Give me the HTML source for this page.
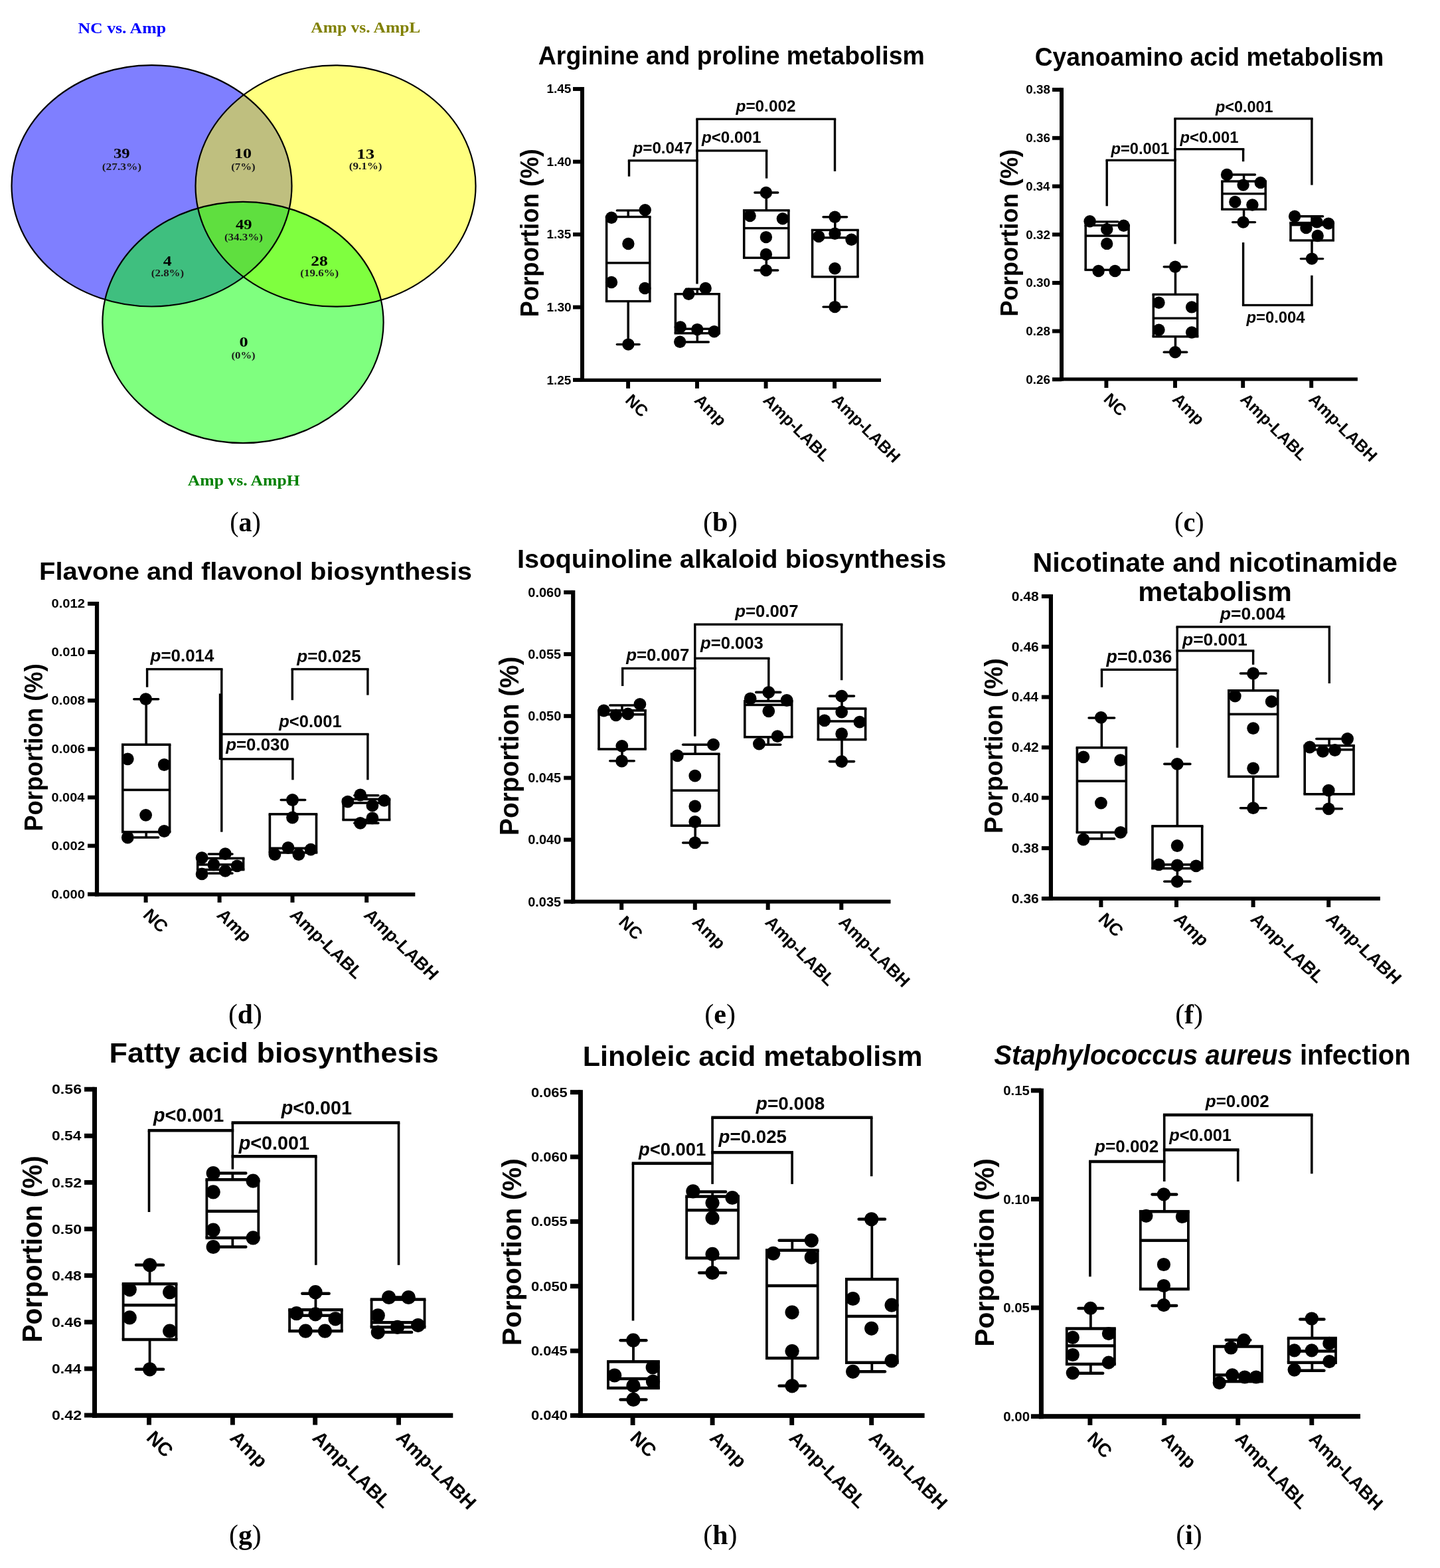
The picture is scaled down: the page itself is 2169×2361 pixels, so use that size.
<!DOCTYPE html>
<html><head><meta charset="utf-8"><title>Figure</title>
<style>html,body{margin:0;padding:0;background:#fff;}svg{display:block;}</style>
</head><body>
<svg width="2169" height="2361" viewBox="0 0 2169 2361">
<rect width="2169" height="2361" fill="#fff"/>
<ellipse cx="228.5" cy="279.8" rx="211" ry="181.7" fill="rgb(0,0,255)" fill-opacity="0.5"/>
<ellipse cx="505.5" cy="280" rx="211" ry="181.7" fill="rgb(255,255,0)" fill-opacity="0.5"/>
<ellipse cx="366" cy="485.5" rx="211.6" ry="181.6" fill="rgb(0,255,0)" fill-opacity="0.5"/>
<g stroke="#000" stroke-width="2.2" fill="none">
<ellipse cx="228.5" cy="279.8" rx="211" ry="181.7"/>
<ellipse cx="505.5" cy="280" rx="211" ry="181.7"/>
<ellipse cx="366" cy="485.5" rx="211.6" ry="181.6"/>
</g>
<text x="117.51" y="50" font-size="22.66" font-family='"Liberation Serif", "Times New Roman", serif' font-weight="bold" fill="#0000ff" textLength="132.52" lengthAdjust="spacingAndGlyphs">NC vs. Amp</text>
<text x="468.35" y="48.7" font-size="22.66" font-family='"Liberation Serif", "Times New Roman", serif' font-weight="bold" fill="#808000" textLength="165.01" lengthAdjust="spacingAndGlyphs">Amp vs. AmpL</text>
<text x="282.85" y="731.3" font-size="22.66" font-family='"Liberation Serif", "Times New Roman", serif' font-weight="bold" fill="#008000" textLength="168.77" lengthAdjust="spacingAndGlyphs">Amp vs. AmpH</text>
<text x="171.07" y="238.4" font-size="21.45" font-family='"Liberation Serif", "Times New Roman", serif' font-weight="bold" fill="#000" textLength="24.61" lengthAdjust="spacingAndGlyphs">39</text>
<text x="352.91" y="238.4" font-size="21.45" font-family='"Liberation Serif", "Times New Roman", serif' font-weight="bold" fill="#000" textLength="26.08" lengthAdjust="spacingAndGlyphs">10</text>
<text x="537.26" y="238.6" font-size="21.45" font-family='"Liberation Serif", "Times New Roman", serif' font-weight="bold" fill="#000" textLength="26.76" lengthAdjust="spacingAndGlyphs">13</text>
<text x="354.96" y="345.2" font-size="21.45" font-family='"Liberation Serif", "Times New Roman", serif' font-weight="bold" fill="#000" textLength="24.52" lengthAdjust="spacingAndGlyphs">49</text>
<text x="245.65" y="400.3" font-size="21.45" font-family='"Liberation Serif", "Times New Roman", serif' font-weight="bold" fill="#000" textLength="12.83" lengthAdjust="spacingAndGlyphs">4</text>
<text x="468.33" y="400.3" font-size="21.45" font-family='"Liberation Serif", "Times New Roman", serif' font-weight="bold" fill="#000" textLength="25.52" lengthAdjust="spacingAndGlyphs">28</text>
<text x="360.59" y="521.7" font-size="21.45" font-family='"Liberation Serif", "Times New Roman", serif' font-weight="bold" fill="#000" textLength="13.21" lengthAdjust="spacingAndGlyphs">0</text>
<text x="153.74" y="255.5" font-size="15.5" font-family='"Liberation Serif", "Times New Roman", serif' font-weight="bold" fill="#1a1a1a" textLength="59.33" lengthAdjust="spacingAndGlyphs">(27.3%)</text>
<text x="348.26" y="255.5" font-size="15.5" font-family='"Liberation Serif", "Times New Roman", serif' font-weight="bold" fill="#1a1a1a" textLength="36.48" lengthAdjust="spacingAndGlyphs">(7%)</text>
<text x="525.75" y="254.7" font-size="15.5" font-family='"Liberation Serif", "Times New Roman", serif' font-weight="bold" fill="#1a1a1a" textLength="49.8" lengthAdjust="spacingAndGlyphs">(9.1%)</text>
<text x="337.95" y="361.5" font-size="15.5" font-family='"Liberation Serif", "Times New Roman", serif' font-weight="bold" fill="#1a1a1a" textLength="57.99" lengthAdjust="spacingAndGlyphs">(34.3%)</text>
<text x="227.86" y="416.4" font-size="15.5" font-family='"Liberation Serif", "Times New Roman", serif' font-weight="bold" fill="#1a1a1a" textLength="49.29" lengthAdjust="spacingAndGlyphs">(2.8%)</text>
<text x="452.36" y="416.4" font-size="15.5" font-family='"Liberation Serif", "Times New Roman", serif' font-weight="bold" fill="#1a1a1a" textLength="57.79" lengthAdjust="spacingAndGlyphs">(19.6%)</text>
<text x="348.47" y="540.3" font-size="15.5" font-family='"Liberation Serif", "Times New Roman", serif' font-weight="bold" fill="#1a1a1a" textLength="36.17" lengthAdjust="spacingAndGlyphs">(0%)</text>
<!-- panel b -->
<text x="810.87" y="97.1" font-size="39.24" font-family='"Liberation Sans", Arial, sans-serif' font-weight="bold" fill="#000" textLength="581.85" lengthAdjust="spacingAndGlyphs">Arginine and proline metabolism</text>
<g fill="#000">
<rect x="874" y="131" width="6" height="444"/>
<rect x="874" y="569.8" width="453" height="5.2"/>
<rect x="863" y="131.05" width="14" height="5.9"/>
<rect x="863" y="240.58" width="14" height="5.9"/>
<rect x="863" y="350.1" width="14" height="5.9"/>
<rect x="863" y="459.63" width="14" height="5.9"/>
<rect x="863" y="569.15" width="14" height="5.9"/>
<rect x="943.15" y="572.4" width="5.9" height="12.5"/>
<rect x="1047.05" y="572.4" width="5.9" height="12.5"/>
<rect x="1150.65" y="572.4" width="5.9" height="12.5"/>
<rect x="1254.15" y="572.4" width="5.9" height="12.5"/>
<rect x="911.85" y="324.8" width="68.7" height="3.4"/>
<rect x="911.85" y="451.9" width="68.7" height="3.4"/>
<rect x="911.85" y="326.5" width="3.5" height="127.1"/>
<rect x="977.05" y="326.5" width="3.5" height="127.1"/>
<rect x="913.6" y="394.2" width="65.2" height="3.4"/>
<rect x="944.45" y="316.9" width="3.5" height="9.6"/>
<rect x="927.62" y="315.2" width="37.16" height="3.4" rx="1.7"/>
<rect x="944.45" y="453.6" width="3.5" height="65"/>
<rect x="927.62" y="516.9" width="37.16" height="3.4" rx="1.7"/>
<rect x="1015.65" y="441" width="69.3" height="3.4"/>
<rect x="1015.65" y="500.1" width="69.3" height="3.4"/>
<rect x="1015.65" y="442.7" width="3.5" height="59.1"/>
<rect x="1081.45" y="442.7" width="3.5" height="59.1"/>
<rect x="1017.4" y="493.5" width="65.8" height="3.4"/>
<rect x="1048.55" y="435.2" width="3.5" height="7.5"/>
<rect x="1031.55" y="433.5" width="37.51" height="3.4" rx="1.7"/>
<rect x="1048.55" y="501.8" width="3.5" height="13.2"/>
<rect x="1031.55" y="513.3" width="37.51" height="3.4" rx="1.7"/>
<rect x="1118.95" y="315.1" width="70.7" height="3.4"/>
<rect x="1118.95" y="386.5" width="70.7" height="3.4"/>
<rect x="1118.95" y="316.8" width="3.5" height="71.4"/>
<rect x="1186.15" y="316.8" width="3.5" height="71.4"/>
<rect x="1120.7" y="341.9" width="67.2" height="3.4"/>
<rect x="1152.55" y="290" width="3.5" height="26.8"/>
<rect x="1135.15" y="288.3" width="38.3" height="3.4" rx="1.7"/>
<rect x="1152.55" y="388.2" width="3.5" height="18.8"/>
<rect x="1135.15" y="405.3" width="38.3" height="3.4" rx="1.7"/>
<rect x="1221.85" y="344.7" width="71.9" height="3.4"/>
<rect x="1221.85" y="415.1" width="71.9" height="3.4"/>
<rect x="1221.85" y="346.4" width="3.5" height="70.4"/>
<rect x="1290.25" y="346.4" width="3.5" height="70.4"/>
<rect x="1223.6" y="356.2" width="68.4" height="3.4"/>
<rect x="1256.05" y="326.8" width="3.5" height="19.6"/>
<rect x="1238.31" y="325.1" width="38.99" height="3.4" rx="1.7"/>
<rect x="1256.05" y="416.8" width="3.5" height="45.3"/>
<rect x="1238.31" y="460.4" width="38.99" height="3.4" rx="1.7"/>
<rect x="945.8" y="241.8" width="3.4" height="23.9"/>
<rect x="945.8" y="240.15" width="105.9" height="3.3"/>
<rect x="1048.3" y="241.8" width="3.4" height="185.7"/>
<rect x="1048.3" y="179.3" width="3.4" height="62.5"/>
<rect x="1048.3" y="225.25" width="108" height="3.3"/>
<rect x="1152.9" y="226.9" width="3.4" height="41.7"/>
<rect x="1048.3" y="177.65" width="210.9" height="3.3"/>
<rect x="1255.8" y="179.3" width="3.4" height="78.6"/>
<circle cx="921" cy="327.7" r="9.2"/>
<circle cx="971.7" cy="316.3" r="9.2"/>
<circle cx="946.4" cy="367" r="9.2"/>
<circle cx="921" cy="425" r="9.2"/>
<circle cx="971.4" cy="434" r="9.2"/>
<circle cx="946.4" cy="518.6" r="9.2"/>
<circle cx="1037.3" cy="442.7" r="9.2"/>
<circle cx="1062.7" cy="434" r="9.2"/>
<circle cx="1024.8" cy="492.4" r="9.2"/>
<circle cx="1050.3" cy="496.1" r="9.2"/>
<circle cx="1075.8" cy="499.3" r="9.2"/>
<circle cx="1024.2" cy="514.8" r="9.2"/>
<circle cx="1153.9" cy="290" r="9.2"/>
<circle cx="1129.6" cy="325" r="9.2"/>
<circle cx="1178.9" cy="329.3" r="9.2"/>
<circle cx="1153.9" cy="357.1" r="9.2"/>
<circle cx="1153.9" cy="382.9" r="9.2"/>
<circle cx="1153.9" cy="407.1" r="9.2"/>
<circle cx="1257.5" cy="326.8" r="9.2"/>
<circle cx="1233.2" cy="356.1" r="9.2"/>
<circle cx="1257.5" cy="351.8" r="9.2"/>
<circle cx="1282.5" cy="360.7" r="9.2"/>
<circle cx="1257.5" cy="404.3" r="9.2"/>
<circle cx="1257.5" cy="462.1" r="9.2"/>
</g>
<text x="823.51" y="140.4" font-size="18.33" font-family='"Liberation Sans", Arial, sans-serif' font-weight="bold" fill="#000" textLength="36.92" lengthAdjust="spacingAndGlyphs">1.45</text>
<text x="823.5" y="249.93" font-size="18.33" font-family='"Liberation Sans", Arial, sans-serif' font-weight="bold" fill="#000" textLength="37.19" lengthAdjust="spacingAndGlyphs">1.40</text>
<text x="823.51" y="359.45" font-size="18.33" font-family='"Liberation Sans", Arial, sans-serif' font-weight="bold" fill="#000" textLength="36.92" lengthAdjust="spacingAndGlyphs">1.35</text>
<text x="823.5" y="468.98" font-size="18.33" font-family='"Liberation Sans", Arial, sans-serif' font-weight="bold" fill="#000" textLength="37.19" lengthAdjust="spacingAndGlyphs">1.30</text>
<text x="823.51" y="578.5" font-size="18.33" font-family='"Liberation Sans", Arial, sans-serif' font-weight="bold" fill="#000" textLength="36.92" lengthAdjust="spacingAndGlyphs">1.25</text>
<text x="0" y="0" font-size="25" font-family='"Liberation Sans", Arial, sans-serif' font-weight="bold" transform="translate(940.6,603.9) rotate(45)">NC</text>
<text x="0" y="0" font-size="25" font-family='"Liberation Sans", Arial, sans-serif' font-weight="bold" transform="translate(1044.5,603.9) rotate(45)">Amp</text>
<text x="0" y="0" font-size="25" font-family='"Liberation Sans", Arial, sans-serif' font-weight="bold" transform="translate(1148.1,603.9) rotate(45)">Amp-LABL</text>
<text x="0" y="0" font-size="25" font-family='"Liberation Sans", Arial, sans-serif' font-weight="bold" transform="translate(1251.6,603.9) rotate(45)">Amp-LABH</text>
<text x="-2.44" y="0" font-size="38" font-family='"Liberation Sans", Arial, sans-serif' font-weight="bold" textLength="253.26" lengthAdjust="spacingAndGlyphs" transform="translate(811,475) rotate(-90)">Porportion (%)</text>
<text x="953.43" y="231" font-size="24.24" font-family='"Liberation Sans", Arial, sans-serif' font-weight="bold" fill="#000" textLength="89.63" lengthAdjust="spacingAndGlyphs"><tspan font-family='"Liberation Sans", Arial, sans-serif' font-weight="bold" font-style="italic">p</tspan>=0.047</text>
<text x="1056.93" y="215" font-size="24.19" font-family='"Liberation Sans", Arial, sans-serif' font-weight="bold" fill="#000" textLength="89.44" lengthAdjust="spacingAndGlyphs"><tspan font-family='"Liberation Sans", Arial, sans-serif' font-weight="bold" font-style="italic">p</tspan>&lt;0.001</text>
<text x="1108.53" y="167.9" font-size="24.33" font-family='"Liberation Sans", Arial, sans-serif' font-weight="bold" fill="#000" textLength="89.94" lengthAdjust="spacingAndGlyphs"><tspan font-family='"Liberation Sans", Arial, sans-serif' font-weight="bold" font-style="italic">p</tspan>=0.002</text>
<!-- panel c -->
<text x="1558.67" y="98.9" font-size="39.24" font-family='"Liberation Sans", Arial, sans-serif' font-weight="bold" fill="#000" textLength="525.84" lengthAdjust="spacingAndGlyphs">Cyanoamino acid metabolism</text>
<g fill="#000">
<rect x="1596" y="132.2" width="6" height="441.4"/>
<rect x="1596" y="568.4" width="448.9" height="5.2"/>
<rect x="1585" y="132.15" width="14" height="5.9"/>
<rect x="1585" y="204.85" width="14" height="5.9"/>
<rect x="1585" y="277.55" width="14" height="5.9"/>
<rect x="1585" y="350.25" width="14" height="5.9"/>
<rect x="1585" y="422.95" width="14" height="5.9"/>
<rect x="1585" y="495.65" width="14" height="5.9"/>
<rect x="1585" y="568.35" width="14" height="5.9"/>
<rect x="1663.45" y="571" width="5.9" height="13"/>
<rect x="1767.05" y="571" width="5.9" height="13"/>
<rect x="1869.25" y="571" width="5.9" height="13"/>
<rect x="1972.25" y="571" width="5.9" height="13"/>
<rect x="1633.45" y="337.6" width="68.4" height="3.4"/>
<rect x="1633.45" y="404.7" width="68.4" height="3.4"/>
<rect x="1633.45" y="339.3" width="3.5" height="67.1"/>
<rect x="1698.35" y="339.3" width="3.5" height="67.1"/>
<rect x="1635.2" y="353.4" width="64.9" height="3.4"/>
<rect x="1665.45" y="333.9" width="3.5" height="5.4"/>
<rect x="1648.7" y="332.2" width="36.99" height="3.4" rx="1.7"/>
<rect x="1735.55" y="441.7" width="69.8" height="3.4"/>
<rect x="1735.55" y="505.1" width="69.8" height="3.4"/>
<rect x="1735.55" y="443.4" width="3.5" height="63.4"/>
<rect x="1801.85" y="443.4" width="3.5" height="63.4"/>
<rect x="1737.3" y="477.5" width="66.3" height="3.4"/>
<rect x="1768.7" y="401.7" width="3.5" height="41.7"/>
<rect x="1751.55" y="400" width="37.79" height="3.4" rx="1.7"/>
<rect x="1768.7" y="506.8" width="3.5" height="23.5"/>
<rect x="1751.55" y="528.6" width="37.79" height="3.4" rx="1.7"/>
<rect x="1839.15" y="271.3" width="68.8" height="3.4"/>
<rect x="1839.15" y="313.5" width="68.8" height="3.4"/>
<rect x="1839.15" y="273" width="3.5" height="42.2"/>
<rect x="1904.45" y="273" width="3.5" height="42.2"/>
<rect x="1840.9" y="290" width="65.3" height="3.4"/>
<rect x="1871.8" y="263" width="3.5" height="10"/>
<rect x="1854.94" y="261.3" width="37.22" height="3.4" rx="1.7"/>
<rect x="1871.8" y="315.2" width="3.5" height="19.4"/>
<rect x="1854.94" y="332.9" width="37.22" height="3.4" rx="1.7"/>
<rect x="1942.25" y="333.8" width="67.7" height="3.4"/>
<rect x="1942.25" y="360.3" width="67.7" height="3.4"/>
<rect x="1942.25" y="335.5" width="3.5" height="26.5"/>
<rect x="2006.45" y="335.5" width="3.5" height="26.5"/>
<rect x="1944" y="337" width="64.2" height="3.4"/>
<rect x="1974.25" y="325.8" width="3.5" height="9.7"/>
<rect x="1957.7" y="324.1" width="36.59" height="3.4" rx="1.7"/>
<rect x="1974.25" y="362" width="3.5" height="27.6"/>
<rect x="1957.7" y="387.9" width="36.59" height="3.4" rx="1.7"/>
<rect x="1665.5" y="241.3" width="3.4" height="69"/>
<rect x="1665.5" y="239.65" width="106.2" height="3.3"/>
<rect x="1768.3" y="241.3" width="3.4" height="126.1"/>
<rect x="1768.3" y="178.7" width="3.4" height="62.6"/>
<rect x="1768.3" y="222.95" width="106" height="3.3"/>
<rect x="1870.9" y="224.6" width="3.4" height="18.6"/>
<rect x="1768.3" y="177.05" width="209.3" height="3.3"/>
<rect x="1974.2" y="178.7" width="3.4" height="99.9"/>
<rect x="1870.9" y="365.1" width="3.4" height="94.4"/>
<rect x="1870.9" y="457.85" width="106.7" height="3.3"/>
<rect x="1974.2" y="414.7" width="3.4" height="44.8"/>
<circle cx="1641.6" cy="333.3" r="9.2"/>
<circle cx="1692.5" cy="339.8" r="9.2"/>
<circle cx="1667.2" cy="345.2" r="9.2"/>
<circle cx="1667.2" cy="366.9" r="9.2"/>
<circle cx="1654.6" cy="408" r="9.2"/>
<circle cx="1679.5" cy="408" r="9.2"/>
<circle cx="1770.1" cy="401.7" r="9.2"/>
<circle cx="1745.5" cy="455.7" r="9.2"/>
<circle cx="1795.1" cy="462.4" r="9.2"/>
<circle cx="1745.5" cy="496.7" r="9.2"/>
<circle cx="1795.1" cy="500.5" r="9.2"/>
<circle cx="1770.1" cy="530.3" r="9.2"/>
<circle cx="1848" cy="263" r="9.2"/>
<circle cx="1872.6" cy="278.6" r="9.2"/>
<circle cx="1898.7" cy="274.9" r="9.2"/>
<circle cx="1860.3" cy="304" r="9.2"/>
<circle cx="1886.4" cy="308.5" r="9.2"/>
<circle cx="1872.6" cy="334.6" r="9.2"/>
<circle cx="1950.1" cy="325.8" r="9.2"/>
<circle cx="1967.4" cy="343.1" r="9.2"/>
<circle cx="1983.6" cy="334.4" r="9.2"/>
<circle cx="2001" cy="336.6" r="9.2"/>
<circle cx="1984.7" cy="355" r="9.2"/>
<circle cx="1976" cy="389.6" r="9.2"/>
</g>
<text x="1545.36" y="141.45" font-size="18.19" font-family='"Liberation Sans", Arial, sans-serif' font-weight="bold" fill="#000" textLength="36.52" lengthAdjust="spacingAndGlyphs">0.38</text>
<text x="1545.36" y="214.15" font-size="18.19" font-family='"Liberation Sans", Arial, sans-serif' font-weight="bold" fill="#000" textLength="36.62" lengthAdjust="spacingAndGlyphs">0.36</text>
<text x="1545.37" y="286.85" font-size="18.19" font-family='"Liberation Sans", Arial, sans-serif' font-weight="bold" fill="#000" textLength="36.03" lengthAdjust="spacingAndGlyphs">0.34</text>
<text x="1545.35" y="359.55" font-size="18.19" font-family='"Liberation Sans", Arial, sans-serif' font-weight="bold" fill="#000" textLength="36.7" lengthAdjust="spacingAndGlyphs">0.32</text>
<text x="1545.35" y="432.25" font-size="18.19" font-family='"Liberation Sans", Arial, sans-serif' font-weight="bold" fill="#000" textLength="36.72" lengthAdjust="spacingAndGlyphs">0.30</text>
<text x="1545.36" y="504.95" font-size="18.19" font-family='"Liberation Sans", Arial, sans-serif' font-weight="bold" fill="#000" textLength="36.52" lengthAdjust="spacingAndGlyphs">0.28</text>
<text x="1545.36" y="577.65" font-size="18.19" font-family='"Liberation Sans", Arial, sans-serif' font-weight="bold" fill="#000" textLength="36.62" lengthAdjust="spacingAndGlyphs">0.26</text>
<text x="0" y="0" font-size="25" font-family='"Liberation Sans", Arial, sans-serif' font-weight="bold" transform="translate(1660.9,602.5) rotate(45)">NC</text>
<text x="0" y="0" font-size="25" font-family='"Liberation Sans", Arial, sans-serif' font-weight="bold" transform="translate(1764.5,602.5) rotate(45)">Amp</text>
<text x="0" y="0" font-size="25" font-family='"Liberation Sans", Arial, sans-serif' font-weight="bold" transform="translate(1866.7,602.5) rotate(45)">Amp-LABL</text>
<text x="0" y="0" font-size="25" font-family='"Liberation Sans", Arial, sans-serif' font-weight="bold" transform="translate(1969.7,602.5) rotate(45)">Amp-LABH</text>
<text x="-2.43" y="0" font-size="37" font-family='"Liberation Sans", Arial, sans-serif' font-weight="bold" textLength="252.14" lengthAdjust="spacingAndGlyphs" transform="translate(1533.1,474.3) rotate(-90)">Porportion (%)</text>
<text x="1673.52" y="232" font-size="23.68" font-family='"Liberation Sans", Arial, sans-serif' font-weight="bold" fill="#000" textLength="87.54" lengthAdjust="spacingAndGlyphs"><tspan font-family='"Liberation Sans", Arial, sans-serif' font-weight="bold" font-style="italic">p</tspan>=0.001</text>
<text x="1777.52" y="215.2" font-size="23.78" font-family='"Liberation Sans", Arial, sans-serif' font-weight="bold" fill="#000" textLength="87.94" lengthAdjust="spacingAndGlyphs"><tspan font-family='"Liberation Sans", Arial, sans-serif' font-weight="bold" font-style="italic">p</tspan>&lt;0.001</text>
<text x="1831.01" y="169.4" font-size="23.43" font-family='"Liberation Sans", Arial, sans-serif' font-weight="bold" fill="#000" textLength="86.64" lengthAdjust="spacingAndGlyphs"><tspan font-family='"Liberation Sans", Arial, sans-serif' font-weight="bold" font-style="italic">p</tspan>&lt;0.001</text>
<text x="1877.52" y="485.6" font-size="23.83" font-family='"Liberation Sans", Arial, sans-serif' font-weight="bold" fill="#000" textLength="88.1" lengthAdjust="spacingAndGlyphs"><tspan font-family='"Liberation Sans", Arial, sans-serif' font-weight="bold" font-style="italic">p</tspan>=0.004</text>
<!-- panel d -->
<text x="59.03" y="873.2" font-size="37.5" font-family='"Liberation Sans", Arial, sans-serif' font-weight="bold" fill="#000" textLength="652.01" lengthAdjust="spacingAndGlyphs">Flavone and flavonol biosynthesis</text>
<g fill="#000">
<rect x="142.9" y="906" width="6.2" height="443.7"/>
<rect x="142.9" y="1343.9" width="482.4" height="5.8"/>
<rect x="132" y="906" width="14" height="6"/>
<rect x="132" y="978.92" width="14" height="6"/>
<rect x="132" y="1051.83" width="14" height="6"/>
<rect x="132" y="1124.75" width="14" height="6"/>
<rect x="132" y="1197.67" width="14" height="6"/>
<rect x="132" y="1270.58" width="14" height="6"/>
<rect x="132" y="1343.5" width="14" height="6"/>
<rect x="216.6" y="1346.8" width="6" height="12.2"/>
<rect x="327.6" y="1346.8" width="6" height="12.2"/>
<rect x="437.5" y="1346.8" width="6" height="12.2"/>
<rect x="549.2" y="1346.8" width="6" height="12.2"/>
<rect x="183" y="1119.4" width="74.4" height="3.6"/>
<rect x="183" y="1250.9" width="74.4" height="3.6"/>
<rect x="183" y="1121.2" width="3.6" height="131.5"/>
<rect x="253.8" y="1121.2" width="3.6" height="131.5"/>
<rect x="184.8" y="1187.6" width="70.8" height="3.6"/>
<rect x="218.4" y="1052.7" width="3.6" height="68.5"/>
<rect x="200.02" y="1050.9" width="40.36" height="3.6" rx="1.8"/>
<rect x="218.4" y="1252.7" width="3.6" height="8.3"/>
<rect x="200.02" y="1259.2" width="40.36" height="3.6" rx="1.8"/>
<rect x="295.9" y="1290.6" width="72.5" height="3.6"/>
<rect x="295.9" y="1307.7" width="72.5" height="3.6"/>
<rect x="295.9" y="1292.4" width="3.6" height="17.1"/>
<rect x="364.8" y="1292.4" width="3.6" height="17.1"/>
<rect x="297.7" y="1300.1" width="68.9" height="3.6"/>
<rect x="330.35" y="1286" width="3.6" height="6.4"/>
<rect x="312.51" y="1284.2" width="39.27" height="3.6" rx="1.8"/>
<rect x="330.35" y="1309.5" width="3.6" height="5.5"/>
<rect x="312.51" y="1313.2" width="39.27" height="3.6" rx="1.8"/>
<rect x="404.6" y="1224.1" width="73.7" height="3.6"/>
<rect x="404.6" y="1282.1" width="73.7" height="3.6"/>
<rect x="404.6" y="1225.9" width="3.6" height="58"/>
<rect x="474.7" y="1225.9" width="3.6" height="58"/>
<rect x="406.4" y="1275.5" width="70.1" height="3.6"/>
<rect x="439.65" y="1204.5" width="3.6" height="21.4"/>
<rect x="421.47" y="1202.7" width="39.96" height="3.6" rx="1.8"/>
<rect x="515.4" y="1201.6" width="72.9" height="3.6"/>
<rect x="515.4" y="1232.7" width="72.9" height="3.6"/>
<rect x="515.4" y="1203.4" width="3.6" height="31.1"/>
<rect x="584.7" y="1203.4" width="3.6" height="31.1"/>
<rect x="517.2" y="1207.2" width="69.3" height="3.6"/>
<rect x="550.05" y="1197.7" width="3.6" height="5.7"/>
<rect x="532.1" y="1195.9" width="39.5" height="3.6" rx="1.8"/>
<rect x="550.05" y="1234.5" width="3.6" height="4.9"/>
<rect x="532.1" y="1237.6" width="39.5" height="3.6" rx="1.8"/>
<rect x="219.9" y="1007.6" width="3.4" height="27.1"/>
<rect x="219.9" y="1005.9" width="115.6" height="3.4"/>
<rect x="332.1" y="1007.6" width="3.4" height="245.1"/>
<rect x="438.6" y="1007.6" width="3.4" height="46.6"/>
<rect x="438.6" y="1005.9" width="117" height="3.4"/>
<rect x="552.2" y="1007.6" width="3.4" height="39"/>
<rect x="329.8" y="1044.4" width="3.4" height="99.6"/>
<rect x="332.1" y="1103.8" width="223.5" height="3.4"/>
<rect x="552.2" y="1105.5" width="3.4" height="68.8"/>
<rect x="332.1" y="1141.2" width="110.5" height="3.4"/>
<rect x="439.2" y="1142.9" width="3.4" height="31.4"/>
<circle cx="219.6" cy="1052.7" r="9.4"/>
<circle cx="192.3" cy="1142.8" r="9.4"/>
<circle cx="247.3" cy="1151.5" r="9.4"/>
<circle cx="219.6" cy="1227.3" r="9.4"/>
<circle cx="247.3" cy="1251.5" r="9.4"/>
<circle cx="192.3" cy="1261" r="9.4"/>
<circle cx="304.1" cy="1291.7" r="9.4"/>
<circle cx="339.3" cy="1285.6" r="9.4"/>
<circle cx="321.9" cy="1301.9" r="9.4"/>
<circle cx="357.1" cy="1303.8" r="9.4"/>
<circle cx="339.3" cy="1311.4" r="9.4"/>
<circle cx="304.1" cy="1315.9" r="9.4"/>
<circle cx="440.5" cy="1204.5" r="9.4"/>
<circle cx="440.5" cy="1231" r="9.4"/>
<circle cx="434" cy="1276.5" r="9.4"/>
<circle cx="468.1" cy="1279.2" r="9.4"/>
<circle cx="413.9" cy="1286.7" r="9.4"/>
<circle cx="449.9" cy="1286.7" r="9.4"/>
<circle cx="542.7" cy="1197" r="9.4"/>
<circle cx="523.8" cy="1207.2" r="9.4"/>
<circle cx="578.7" cy="1205.3" r="9.4"/>
<circle cx="560.9" cy="1212.9" r="9.4"/>
<circle cx="560.9" cy="1231.8" r="9.4"/>
<circle cx="542.7" cy="1239.4" r="9.4"/>
</g>
<text x="77.5" y="915.3" font-size="18.05" font-family='"Liberation Sans", Arial, sans-serif' font-weight="bold" fill="#000" textLength="50.51" lengthAdjust="spacingAndGlyphs">0.012</text>
<text x="77.5" y="988.22" font-size="18.05" font-family='"Liberation Sans", Arial, sans-serif' font-weight="bold" fill="#000" textLength="50.53" lengthAdjust="spacingAndGlyphs">0.010</text>
<text x="77.5" y="1061.13" font-size="18.05" font-family='"Liberation Sans", Arial, sans-serif' font-weight="bold" fill="#000" textLength="50.31" lengthAdjust="spacingAndGlyphs">0.008</text>
<text x="77.5" y="1134.05" font-size="18.05" font-family='"Liberation Sans", Arial, sans-serif' font-weight="bold" fill="#000" textLength="50.43" lengthAdjust="spacingAndGlyphs">0.006</text>
<text x="77.51" y="1206.97" font-size="18.05" font-family='"Liberation Sans", Arial, sans-serif' font-weight="bold" fill="#000" textLength="49.79" lengthAdjust="spacingAndGlyphs">0.004</text>
<text x="77.5" y="1279.88" font-size="18.05" font-family='"Liberation Sans", Arial, sans-serif' font-weight="bold" fill="#000" textLength="50.51" lengthAdjust="spacingAndGlyphs">0.002</text>
<text x="77.5" y="1352.8" font-size="18.05" font-family='"Liberation Sans", Arial, sans-serif' font-weight="bold" fill="#000" textLength="50.53" lengthAdjust="spacingAndGlyphs">0.000</text>
<text x="0" y="0" font-size="26" font-family='"Liberation Sans", Arial, sans-serif' font-weight="bold" transform="translate(214,1379.3) scale(1.05,1) rotate(45)">NC</text>
<text x="0" y="0" font-size="26" font-family='"Liberation Sans", Arial, sans-serif' font-weight="bold" transform="translate(325,1379.3) scale(1.05,1) rotate(45)">Amp</text>
<text x="0" y="0" font-size="26" font-family='"Liberation Sans", Arial, sans-serif' font-weight="bold" transform="translate(434.9,1379.3) scale(1.05,1) rotate(45)">Amp-LABL</text>
<text x="0" y="0" font-size="26" font-family='"Liberation Sans", Arial, sans-serif' font-weight="bold" transform="translate(546.6,1379.3) scale(1.05,1) rotate(45)">Amp-LABH</text>
<text x="-2.43" y="0" font-size="38.5" font-family='"Liberation Sans", Arial, sans-serif' font-weight="bold" textLength="252.54" lengthAdjust="spacingAndGlyphs" transform="translate(63.7,1249.3) rotate(-90)">Porportion (%)</text>
<text x="226.57" y="995.7" font-size="25.93" font-family='"Liberation Sans", Arial, sans-serif' font-weight="bold" fill="#000" textLength="95.87" lengthAdjust="spacingAndGlyphs"><tspan font-family='"Liberation Sans", Arial, sans-serif' font-weight="bold" font-style="italic">p</tspan>=0.014</text>
<text x="447.37" y="996.8" font-size="26.06" font-family='"Liberation Sans", Arial, sans-serif' font-weight="bold" fill="#000" textLength="96.35" lengthAdjust="spacingAndGlyphs"><tspan font-family='"Liberation Sans", Arial, sans-serif' font-weight="bold" font-style="italic">p</tspan>=0.025</text>
<text x="420.26" y="1095.3" font-size="25.52" font-family='"Liberation Sans", Arial, sans-serif' font-weight="bold" fill="#000" textLength="94.35" lengthAdjust="spacingAndGlyphs"><tspan font-family='"Liberation Sans", Arial, sans-serif' font-weight="bold" font-style="italic">p</tspan>&lt;0.001</text>
<text x="340.17" y="1129.9" font-size="25.88" font-family='"Liberation Sans", Arial, sans-serif' font-weight="bold" fill="#000" textLength="95.69" lengthAdjust="spacingAndGlyphs"><tspan font-family='"Liberation Sans", Arial, sans-serif' font-weight="bold" font-style="italic">p</tspan>=0.030</text>
<!-- panel e -->
<text x="779.04" y="854.8" font-size="39.24" font-family='"Liberation Sans", Arial, sans-serif' font-weight="bold" fill="#000" textLength="646.28" lengthAdjust="spacingAndGlyphs">Isoquinoline alkaloid biosynthesis</text>
<g fill="#000">
<rect x="860.1" y="888.9" width="6.2" height="471.6"/>
<rect x="860.1" y="1354.7" width="481.4" height="5.8"/>
<rect x="849.2" y="888.9" width="14" height="6"/>
<rect x="849.2" y="982.04" width="14" height="6"/>
<rect x="849.2" y="1075.18" width="14" height="6"/>
<rect x="849.2" y="1168.32" width="14" height="6"/>
<rect x="849.2" y="1261.46" width="14" height="6"/>
<rect x="849.2" y="1354.6" width="14" height="6"/>
<rect x="933.2" y="1357.6" width="6" height="12.4"/>
<rect x="1043.8" y="1357.6" width="6" height="12.4"/>
<rect x="1153.7" y="1357.6" width="6" height="12.4"/>
<rect x="1264.3" y="1357.6" width="6" height="12.4"/>
<rect x="900.2" y="1068" width="73.6" height="3.6"/>
<rect x="900.2" y="1126.2" width="73.6" height="3.6"/>
<rect x="900.2" y="1069.8" width="3.6" height="58.2"/>
<rect x="970.2" y="1069.8" width="3.6" height="58.2"/>
<rect x="902" y="1074" width="70" height="3.6"/>
<rect x="935.2" y="1062" width="3.6" height="7.8"/>
<rect x="917.05" y="1060.2" width="39.9" height="3.6" rx="1.8"/>
<rect x="935.2" y="1128" width="3.6" height="17.8"/>
<rect x="917.05" y="1144" width="39.9" height="3.6" rx="1.8"/>
<rect x="1009.8" y="1133.4" width="74.8" height="3.6"/>
<rect x="1009.8" y="1241.4" width="74.8" height="3.6"/>
<rect x="1009.8" y="1135.2" width="3.6" height="108"/>
<rect x="1081" y="1135.2" width="3.6" height="108"/>
<rect x="1011.6" y="1188.4" width="71.2" height="3.6"/>
<rect x="1045.4" y="1121.2" width="3.6" height="14"/>
<rect x="1026.91" y="1119.4" width="40.58" height="3.6" rx="1.8"/>
<rect x="1045.4" y="1243.2" width="3.6" height="25.8"/>
<rect x="1026.91" y="1267.2" width="40.58" height="3.6" rx="1.8"/>
<rect x="1120" y="1053.9" width="74.5" height="3.6"/>
<rect x="1120" y="1108" width="74.5" height="3.6"/>
<rect x="1120" y="1055.7" width="3.6" height="54.1"/>
<rect x="1190.9" y="1055.7" width="3.6" height="54.1"/>
<rect x="1121.8" y="1059.6" width="70.9" height="3.6"/>
<rect x="1155.45" y="1042.4" width="3.6" height="13.3"/>
<rect x="1137.04" y="1040.6" width="40.41" height="3.6" rx="1.8"/>
<rect x="1155.45" y="1109.8" width="3.6" height="11.4"/>
<rect x="1137.04" y="1119.4" width="40.41" height="3.6" rx="1.8"/>
<rect x="1230.6" y="1065.2" width="74.8" height="3.6"/>
<rect x="1230.6" y="1111.8" width="74.8" height="3.6"/>
<rect x="1230.6" y="1067" width="3.6" height="46.6"/>
<rect x="1301.8" y="1067" width="3.6" height="46.6"/>
<rect x="1232.4" y="1084.2" width="71.2" height="3.6"/>
<rect x="1266.2" y="1048.1" width="3.6" height="18.9"/>
<rect x="1247.71" y="1046.3" width="40.58" height="3.6" rx="1.8"/>
<rect x="1266.2" y="1113.6" width="3.6" height="33"/>
<rect x="1247.71" y="1144.8" width="40.58" height="3.6" rx="1.8"/>
<rect x="936" y="1006.4" width="3.4" height="26.6"/>
<rect x="936" y="1004.7" width="112.5" height="3.4"/>
<rect x="1045.1" y="1006.4" width="3.4" height="102.3"/>
<rect x="1045.1" y="940.2" width="3.4" height="66.2"/>
<rect x="1045.1" y="989.6" width="114.4" height="3.4"/>
<rect x="1156.1" y="991.3" width="3.4" height="42.7"/>
<rect x="1045.1" y="938.5" width="224.3" height="3.4"/>
<rect x="1266" y="940.2" width="3.4" height="84"/>
<circle cx="909.5" cy="1070" r="9.4"/>
<circle cx="927.8" cy="1076.8" r="9.4"/>
<circle cx="945.8" cy="1074.9" r="9.4"/>
<circle cx="963.9" cy="1060.4" r="9.4"/>
<circle cx="936.8" cy="1123.3" r="9.4"/>
<circle cx="936.6" cy="1146" r="9.4"/>
<circle cx="1020.3" cy="1137.9" r="9.4"/>
<circle cx="1074.5" cy="1121.2" r="9.4"/>
<circle cx="1046.8" cy="1168.2" r="9.4"/>
<circle cx="1046.8" cy="1214" r="9.4"/>
<circle cx="1046.8" cy="1237.5" r="9.4"/>
<circle cx="1046.8" cy="1268.9" r="9.4"/>
<circle cx="1157.8" cy="1042.4" r="9.4"/>
<circle cx="1130.2" cy="1051.9" r="9.4"/>
<circle cx="1185.1" cy="1054.5" r="9.4"/>
<circle cx="1157.8" cy="1070.8" r="9.4"/>
<circle cx="1171.1" cy="1108.7" r="9.4"/>
<circle cx="1143.4" cy="1120.1" r="9.4"/>
<circle cx="1267.7" cy="1048.1" r="9.4"/>
<circle cx="1267.7" cy="1072" r="9.4"/>
<circle cx="1241.9" cy="1084.8" r="9.4"/>
<circle cx="1294.9" cy="1087.1" r="9.4"/>
<circle cx="1267.7" cy="1104.9" r="9.4"/>
<circle cx="1267.7" cy="1146.6" r="9.4"/>
</g>
<text x="795.31" y="898.85" font-size="19.91" font-family='"Liberation Sans", Arial, sans-serif' font-weight="bold" fill="#000" textLength="50.01" lengthAdjust="spacingAndGlyphs">0.060</text>
<text x="795.31" y="991.99" font-size="19.91" font-family='"Liberation Sans", Arial, sans-serif' font-weight="bold" fill="#000" textLength="49.74" lengthAdjust="spacingAndGlyphs">0.055</text>
<text x="795.31" y="1085.13" font-size="19.91" font-family='"Liberation Sans", Arial, sans-serif' font-weight="bold" fill="#000" textLength="50.01" lengthAdjust="spacingAndGlyphs">0.050</text>
<text x="795.31" y="1178.27" font-size="19.91" font-family='"Liberation Sans", Arial, sans-serif' font-weight="bold" fill="#000" textLength="49.74" lengthAdjust="spacingAndGlyphs">0.045</text>
<text x="795.31" y="1271.41" font-size="19.91" font-family='"Liberation Sans", Arial, sans-serif' font-weight="bold" fill="#000" textLength="50.01" lengthAdjust="spacingAndGlyphs">0.040</text>
<text x="795.31" y="1364.55" font-size="19.91" font-family='"Liberation Sans", Arial, sans-serif' font-weight="bold" fill="#000" textLength="49.74" lengthAdjust="spacingAndGlyphs">0.035</text>
<text x="0" y="0" font-size="26" font-family='"Liberation Sans", Arial, sans-serif' font-weight="bold" transform="translate(930.6,1390.1) rotate(45)">NC</text>
<text x="0" y="0" font-size="26" font-family='"Liberation Sans", Arial, sans-serif' font-weight="bold" transform="translate(1041.2,1390.1) rotate(45)">Amp</text>
<text x="0" y="0" font-size="26" font-family='"Liberation Sans", Arial, sans-serif' font-weight="bold" transform="translate(1151.1,1390.1) rotate(45)">Amp-LABL</text>
<text x="0" y="0" font-size="26" font-family='"Liberation Sans", Arial, sans-serif' font-weight="bold" transform="translate(1261.7,1390.1) rotate(45)">Amp-LABH</text>
<text x="-2.6" y="0" font-size="40.5" font-family='"Liberation Sans", Arial, sans-serif' font-weight="bold" textLength="269.43" lengthAdjust="spacingAndGlyphs" transform="translate(781.1,1255.3) rotate(-90)">Porportion (%)</text>
<text x="943.27" y="995" font-size="25.74" font-family='"Liberation Sans", Arial, sans-serif' font-weight="bold" fill="#000" textLength="95.17" lengthAdjust="spacingAndGlyphs"><tspan font-family='"Liberation Sans", Arial, sans-serif' font-weight="bold" font-style="italic">p</tspan>=0.007</text>
<text x="1054.96" y="977.3" font-size="25.68" font-family='"Liberation Sans", Arial, sans-serif' font-weight="bold" fill="#000" textLength="94.96" lengthAdjust="spacingAndGlyphs"><tspan font-family='"Liberation Sans", Arial, sans-serif' font-weight="bold" font-style="italic">p</tspan>=0.003</text>
<text x="1107.27" y="928.8" font-size="25.77" font-family='"Liberation Sans", Arial, sans-serif' font-weight="bold" fill="#000" textLength="95.27" lengthAdjust="spacingAndGlyphs"><tspan font-family='"Liberation Sans", Arial, sans-serif' font-weight="bold" font-style="italic">p</tspan>=0.007</text>
<!-- panel f -->
<text x="1555.64" y="861.4" font-size="39.97" font-family='"Liberation Sans", Arial, sans-serif' font-weight="bold" fill="#000" textLength="549.26" lengthAdjust="spacingAndGlyphs">Nicotinate and nicotinamide</text>
<text x="1714.25" y="905.2" font-size="39.97" font-family='"Liberation Sans", Arial, sans-serif' font-weight="bold" fill="#000" textLength="231.53" lengthAdjust="spacingAndGlyphs">metabolism</text>
<g fill="#000">
<rect x="1579.8" y="894.9" width="6.2" height="461"/>
<rect x="1579.8" y="1350.1" width="499.1" height="5.8"/>
<rect x="1568.9" y="894.9" width="14" height="6"/>
<rect x="1568.9" y="970.75" width="14" height="6"/>
<rect x="1568.9" y="1046.6" width="14" height="6"/>
<rect x="1568.9" y="1122.45" width="14" height="6"/>
<rect x="1568.9" y="1198.3" width="14" height="6"/>
<rect x="1568.9" y="1274.15" width="14" height="6"/>
<rect x="1568.9" y="1350" width="14" height="6"/>
<rect x="1655.4" y="1353" width="6" height="13"/>
<rect x="1769" y="1353" width="6" height="13"/>
<rect x="1884.6" y="1353" width="6" height="13"/>
<rect x="1998.2" y="1353" width="6" height="13"/>
<rect x="1620.6" y="1124" width="77.5" height="3.6"/>
<rect x="1620.6" y="1251.6" width="77.5" height="3.6"/>
<rect x="1620.6" y="1125.8" width="3.6" height="127.6"/>
<rect x="1694.5" y="1125.8" width="3.6" height="127.6"/>
<rect x="1622.4" y="1174.3" width="73.9" height="3.6"/>
<rect x="1657.55" y="1081" width="3.6" height="44.8"/>
<rect x="1638.29" y="1079.2" width="42.12" height="3.6" rx="1.8"/>
<rect x="1657.55" y="1253.4" width="3.6" height="9.5"/>
<rect x="1638.29" y="1261.1" width="42.12" height="3.6" rx="1.8"/>
<rect x="1734.2" y="1242.1" width="78.3" height="3.6"/>
<rect x="1734.2" y="1305.8" width="78.3" height="3.6"/>
<rect x="1734.2" y="1243.9" width="3.6" height="63.7"/>
<rect x="1808.9" y="1243.9" width="3.6" height="63.7"/>
<rect x="1736" y="1300.1" width="74.7" height="3.6"/>
<rect x="1771.55" y="1150.4" width="3.6" height="93.5"/>
<rect x="1752.06" y="1148.6" width="42.58" height="3.6" rx="1.8"/>
<rect x="1771.55" y="1307.6" width="3.6" height="19.7"/>
<rect x="1752.06" y="1325.5" width="42.58" height="3.6" rx="1.8"/>
<rect x="1849" y="1038" width="77.5" height="3.6"/>
<rect x="1849" y="1167.5" width="77.5" height="3.6"/>
<rect x="1849" y="1039.8" width="3.6" height="129.5"/>
<rect x="1922.9" y="1039.8" width="3.6" height="129.5"/>
<rect x="1850.8" y="1073.6" width="73.9" height="3.6"/>
<rect x="1885.95" y="1014" width="3.6" height="25.8"/>
<rect x="1866.69" y="1012.2" width="42.12" height="3.6" rx="1.8"/>
<rect x="1885.95" y="1169.3" width="3.6" height="47.4"/>
<rect x="1866.69" y="1214.9" width="42.12" height="3.6" rx="1.8"/>
<rect x="1963.4" y="1120.9" width="77.4" height="3.6"/>
<rect x="1963.4" y="1194" width="77.4" height="3.6"/>
<rect x="1963.4" y="1122.7" width="3.6" height="73.1"/>
<rect x="2037.2" y="1122.7" width="3.6" height="73.1"/>
<rect x="1965.2" y="1127" width="73.8" height="3.6"/>
<rect x="2000.3" y="1112.5" width="3.6" height="10.2"/>
<rect x="1981.07" y="1110.7" width="42.07" height="3.6" rx="1.8"/>
<rect x="2000.3" y="1195.8" width="3.6" height="22"/>
<rect x="1981.07" y="1216" width="42.07" height="3.6" rx="1.8"/>
<rect x="1657.8" y="1008.3" width="3.4" height="26.5"/>
<rect x="1657.8" y="1006.6" width="117.1" height="3.4"/>
<rect x="1771.5" y="1008.3" width="3.4" height="117.5"/>
<rect x="1771.5" y="943.9" width="3.4" height="64.4"/>
<rect x="1771.5" y="978.2" width="117.8" height="3.4"/>
<rect x="1885.9" y="979.9" width="3.4" height="20.9"/>
<rect x="1771.5" y="942.2" width="232.5" height="3.4"/>
<rect x="2000.6" y="943.9" width="3.4" height="85.1"/>
<circle cx="1658.4" cy="1080.3" r="9.4"/>
<circle cx="1631.9" cy="1139.8" r="9.4"/>
<circle cx="1687.6" cy="1144.7" r="9.4"/>
<circle cx="1658.4" cy="1209.1" r="9.4"/>
<circle cx="1687.9" cy="1253.4" r="9.4"/>
<circle cx="1631.9" cy="1264" r="9.4"/>
<circle cx="1773.2" cy="1150.4" r="9.4"/>
<circle cx="1773.2" cy="1273.5" r="9.4"/>
<circle cx="1745.5" cy="1301.9" r="9.4"/>
<circle cx="1773.2" cy="1303" r="9.4"/>
<circle cx="1801.6" cy="1303.8" r="9.4"/>
<circle cx="1773.2" cy="1327.3" r="9.4"/>
<circle cx="1887.6" cy="1014" r="9.4"/>
<circle cx="1860.3" cy="1048.1" r="9.4"/>
<circle cx="1915.2" cy="1056.4" r="9.4"/>
<circle cx="1887.6" cy="1096.6" r="9.4"/>
<circle cx="1887.6" cy="1156.8" r="9.4"/>
<circle cx="1887.6" cy="1216.7" r="9.4"/>
<circle cx="2029.6" cy="1112.5" r="9.4"/>
<circle cx="1972.8" cy="1125" r="9.4"/>
<circle cx="1992.5" cy="1131.4" r="9.4"/>
<circle cx="2010.7" cy="1129.5" r="9.4"/>
<circle cx="2001.2" cy="1190.2" r="9.4"/>
<circle cx="2001.2" cy="1217.8" r="9.4"/>
</g>
<text x="1523.87" y="904.65" font-size="19.33" font-family='"Liberation Sans", Arial, sans-serif' font-weight="bold" fill="#000" textLength="40.77" lengthAdjust="spacingAndGlyphs">0.48</text>
<text x="1523.87" y="980.5" font-size="19.33" font-family='"Liberation Sans", Arial, sans-serif' font-weight="bold" fill="#000" textLength="40.89" lengthAdjust="spacingAndGlyphs">0.46</text>
<text x="1523.88" y="1056.35" font-size="19.33" font-family='"Liberation Sans", Arial, sans-serif' font-weight="bold" fill="#000" textLength="40.23" lengthAdjust="spacingAndGlyphs">0.44</text>
<text x="1523.87" y="1132.2" font-size="19.33" font-family='"Liberation Sans", Arial, sans-serif' font-weight="bold" fill="#000" textLength="40.98" lengthAdjust="spacingAndGlyphs">0.42</text>
<text x="1523.87" y="1208.05" font-size="19.33" font-family='"Liberation Sans", Arial, sans-serif' font-weight="bold" fill="#000" textLength="41" lengthAdjust="spacingAndGlyphs">0.40</text>
<text x="1523.87" y="1283.9" font-size="19.33" font-family='"Liberation Sans", Arial, sans-serif' font-weight="bold" fill="#000" textLength="40.77" lengthAdjust="spacingAndGlyphs">0.38</text>
<text x="1523.87" y="1359.75" font-size="19.33" font-family='"Liberation Sans", Arial, sans-serif' font-weight="bold" fill="#000" textLength="40.89" lengthAdjust="spacingAndGlyphs">0.36</text>
<text x="0" y="0" font-size="26" font-family='"Liberation Sans", Arial, sans-serif' font-weight="bold" transform="translate(1652.8,1385.5) scale(1.06,1) rotate(45)">NC</text>
<text x="0" y="0" font-size="26" font-family='"Liberation Sans", Arial, sans-serif' font-weight="bold" transform="translate(1766.4,1385.5) scale(1.06,1) rotate(45)">Amp</text>
<text x="0" y="0" font-size="26" font-family='"Liberation Sans", Arial, sans-serif' font-weight="bold" transform="translate(1882,1385.5) scale(1.06,1) rotate(45)">Amp-LABL</text>
<text x="0" y="0" font-size="26" font-family='"Liberation Sans", Arial, sans-serif' font-weight="bold" transform="translate(1995.6,1385.5) scale(1.06,1) rotate(45)">Amp-LABH</text>
<text x="-2.54" y="0" font-size="39.5" font-family='"Liberation Sans", Arial, sans-serif' font-weight="bold" textLength="263.83" lengthAdjust="spacingAndGlyphs" transform="translate(1510.1,1252.4) rotate(-90)">Porportion (%)</text>
<text x="1666.59" y="997.7" font-size="26.74" font-family='"Liberation Sans", Arial, sans-serif' font-weight="bold" fill="#000" textLength="98.88" lengthAdjust="spacingAndGlyphs"><tspan font-family='"Liberation Sans", Arial, sans-serif' font-weight="bold" font-style="italic">p</tspan>=0.036</text>
<text x="1780.98" y="972.3" font-size="26.44" font-family='"Liberation Sans", Arial, sans-serif' font-weight="bold" fill="#000" textLength="97.75" lengthAdjust="spacingAndGlyphs"><tspan font-family='"Liberation Sans", Arial, sans-serif' font-weight="bold" font-style="italic">p</tspan>=0.001</text>
<text x="1837.78" y="933.3" font-size="26.52" font-family='"Liberation Sans", Arial, sans-serif' font-weight="bold" fill="#000" textLength="98.06" lengthAdjust="spacingAndGlyphs"><tspan font-family='"Liberation Sans", Arial, sans-serif' font-weight="bold" font-style="italic">p</tspan>=0.004</text>
<!-- panel g -->
<text x="164.5" y="1599.8" font-size="42.44" font-family='"Liberation Sans", Arial, sans-serif' font-weight="bold" fill="#000" textLength="496.34" lengthAdjust="spacingAndGlyphs">Fatty acid biosynthesis</text>
<g fill="#000">
<rect x="139" y="1636.8" width="7" height="498.05"/>
<rect x="139" y="2127.75" width="543.3" height="7.1"/>
<rect x="127" y="1636.75" width="15.5" height="6.9"/>
<rect x="127" y="1706.86" width="15.5" height="6.9"/>
<rect x="127" y="1776.98" width="15.5" height="6.9"/>
<rect x="127" y="1847.09" width="15.5" height="6.9"/>
<rect x="127" y="1917.21" width="15.5" height="6.9"/>
<rect x="127" y="1987.32" width="15.5" height="6.9"/>
<rect x="127" y="2057.44" width="15.5" height="6.9"/>
<rect x="127" y="2127.55" width="15.5" height="6.9"/>
<rect x="221.05" y="2131.3" width="6.9" height="14.3"/>
<rect x="346.95" y="2131.3" width="6.9" height="14.3"/>
<rect x="471.25" y="2131.3" width="6.9" height="14.3"/>
<rect x="597.05" y="2131.3" width="6.9" height="14.3"/>
<rect x="183.7" y="1930.95" width="83.7" height="4.5"/>
<rect x="183.7" y="2014.75" width="83.7" height="4.5"/>
<rect x="183.7" y="1933.2" width="3.8" height="83.8"/>
<rect x="263.6" y="1933.2" width="3.8" height="83.8"/>
<rect x="185.6" y="1962.95" width="79.9" height="4.5"/>
<rect x="223.65" y="1904.8" width="3.8" height="28.4"/>
<rect x="202.78" y="1902.55" width="45.54" height="4.5" rx="2.25"/>
<rect x="223.65" y="2017" width="3.8" height="44.8"/>
<rect x="202.78" y="2059.55" width="45.54" height="4.5" rx="2.25"/>
<rect x="309.5" y="1773.95" width="81.7" height="4.5"/>
<rect x="309.5" y="1861.65" width="81.7" height="4.5"/>
<rect x="309.5" y="1776.2" width="3.8" height="87.7"/>
<rect x="387.4" y="1776.2" width="3.8" height="87.7"/>
<rect x="311.4" y="1821.55" width="77.9" height="4.5"/>
<rect x="348.45" y="1766.5" width="3.8" height="9.7"/>
<rect x="328.15" y="1764.25" width="44.4" height="4.5" rx="2.25"/>
<rect x="348.45" y="1863.9" width="3.8" height="13.6"/>
<rect x="328.15" y="1875.25" width="44.4" height="4.5" rx="2.25"/>
<rect x="434.2" y="1969.95" width="82.5" height="4.5"/>
<rect x="434.2" y="2001.95" width="82.5" height="4.5"/>
<rect x="434.2" y="1972.2" width="3.8" height="32"/>
<rect x="512.9" y="1972.2" width="3.8" height="32"/>
<rect x="436.1" y="1978.55" width="78.7" height="4.5"/>
<rect x="473.55" y="1947.7" width="3.8" height="24.5"/>
<rect x="453.02" y="1945.45" width="44.86" height="4.5" rx="2.25"/>
<rect x="557.7" y="1954.35" width="83.7" height="4.5"/>
<rect x="557.7" y="1996.05" width="83.7" height="4.5"/>
<rect x="557.7" y="1956.6" width="3.8" height="41.7"/>
<rect x="637.6" y="1956.6" width="3.8" height="41.7"/>
<rect x="559.6" y="1989.05" width="79.9" height="4.5"/>
<rect x="597.65" y="1953.5" width="3.8" height="3.1"/>
<rect x="576.78" y="1951.25" width="45.54" height="4.5" rx="2.25"/>
<rect x="597.65" y="1998.3" width="3.8" height="7.8"/>
<rect x="576.78" y="2003.85" width="45.54" height="4.5" rx="2.25"/>
<rect x="222.7" y="1702.2" width="3.6" height="122.8"/>
<rect x="222.7" y="1699.95" width="129.5" height="4.5"/>
<rect x="348.6" y="1702.2" width="3.6" height="58.4"/>
<rect x="348.6" y="1690.5" width="3.6" height="11.7"/>
<rect x="348.6" y="1738.95" width="129" height="4.5"/>
<rect x="474" y="1741.2" width="3.6" height="163.6"/>
<rect x="348.6" y="1688.25" width="253.7" height="4.5"/>
<rect x="598.7" y="1690.5" width="3.6" height="214.3"/>
<circle cx="225.7" cy="1904.8" r="10.6"/>
<circle cx="195.3" cy="1941.8" r="10.6"/>
<circle cx="255.7" cy="1945.7" r="10.6"/>
<circle cx="195.3" cy="1983.9" r="10.6"/>
<circle cx="255.7" cy="2004.2" r="10.6"/>
<circle cx="225.7" cy="2061.8" r="10.6"/>
<circle cx="321.2" cy="1766.5" r="10.6"/>
<circle cx="381.2" cy="1778.2" r="10.6"/>
<circle cx="321.2" cy="1794.9" r="10.6"/>
<circle cx="321.2" cy="1852.2" r="10.6"/>
<circle cx="381.2" cy="1863.9" r="10.6"/>
<circle cx="321.2" cy="1877.5" r="10.6"/>
<circle cx="475.1" cy="1945.7" r="10.6"/>
<circle cx="446.6" cy="1977.7" r="10.6"/>
<circle cx="475.1" cy="1978.8" r="10.6"/>
<circle cx="505.1" cy="1985.8" r="10.6"/>
<circle cx="460.3" cy="2004.2" r="10.6"/>
<circle cx="489.5" cy="2004.2" r="10.6"/>
<circle cx="585.7" cy="1953.5" r="10.6"/>
<circle cx="615.3" cy="1953.5" r="10.6"/>
<circle cx="569.3" cy="1980.8" r="10.6"/>
<circle cx="598.6" cy="1998.3" r="10.6"/>
<circle cx="629.7" cy="1995.6" r="10.6"/>
<circle cx="569.3" cy="2006.1" r="10.6"/>
</g>
<text x="77.98" y="1647.35" font-size="20.48" font-family='"Liberation Sans", Arial, sans-serif' font-weight="bold" fill="#000" textLength="45.05" lengthAdjust="spacingAndGlyphs">0.56</text>
<text x="78" y="1717.46" font-size="20.48" font-family='"Liberation Sans", Arial, sans-serif' font-weight="bold" fill="#000" textLength="44.32" lengthAdjust="spacingAndGlyphs">0.54</text>
<text x="77.98" y="1787.58" font-size="20.48" font-family='"Liberation Sans", Arial, sans-serif' font-weight="bold" fill="#000" textLength="45.15" lengthAdjust="spacingAndGlyphs">0.52</text>
<text x="77.98" y="1857.69" font-size="20.48" font-family='"Liberation Sans", Arial, sans-serif' font-weight="bold" fill="#000" textLength="45.17" lengthAdjust="spacingAndGlyphs">0.50</text>
<text x="77.99" y="1927.81" font-size="20.48" font-family='"Liberation Sans", Arial, sans-serif' font-weight="bold" fill="#000" textLength="44.92" lengthAdjust="spacingAndGlyphs">0.48</text>
<text x="77.98" y="1997.92" font-size="20.48" font-family='"Liberation Sans", Arial, sans-serif' font-weight="bold" fill="#000" textLength="45.05" lengthAdjust="spacingAndGlyphs">0.46</text>
<text x="78" y="2068.04" font-size="20.48" font-family='"Liberation Sans", Arial, sans-serif' font-weight="bold" fill="#000" textLength="44.32" lengthAdjust="spacingAndGlyphs">0.44</text>
<text x="77.98" y="2138.15" font-size="20.48" font-family='"Liberation Sans", Arial, sans-serif' font-weight="bold" fill="#000" textLength="45.15" lengthAdjust="spacingAndGlyphs">0.42</text>
<text x="0" y="0" font-size="28.7" font-family='"Liberation Sans", Arial, sans-serif' font-weight="bold" transform="translate(218.9,2166.6) scale(1.02,1) rotate(45)">NC</text>
<text x="0" y="0" font-size="28.7" font-family='"Liberation Sans", Arial, sans-serif' font-weight="bold" transform="translate(344.8,2166.6) scale(1.02,1) rotate(45)">Amp</text>
<text x="0" y="0" font-size="28.7" font-family='"Liberation Sans", Arial, sans-serif' font-weight="bold" transform="translate(469.1,2166.6) scale(1.02,1) rotate(45)">Amp-LABL</text>
<text x="0" y="0" font-size="28.7" font-family='"Liberation Sans", Arial, sans-serif' font-weight="bold" transform="translate(594.9,2166.6) scale(1.02,1) rotate(45)">Amp-LABH</text>
<text x="-2.71" y="0" font-size="42" font-family='"Liberation Sans", Arial, sans-serif' font-weight="bold" textLength="281.33" lengthAdjust="spacingAndGlyphs" transform="translate(63.1,2018.9) rotate(-90)">Porportion (%)</text>
<text x="231.03" y="1689.3" font-size="28.72" font-family='"Liberation Sans", Arial, sans-serif' font-weight="bold" fill="#000" textLength="106.17" lengthAdjust="spacingAndGlyphs"><tspan font-family='"Liberation Sans", Arial, sans-serif' font-weight="bold" font-style="italic">p</tspan>&lt;0.001</text>
<text x="359.63" y="1730.6" font-size="28.8" font-family='"Liberation Sans", Arial, sans-serif' font-weight="bold" fill="#000" textLength="106.47" lengthAdjust="spacingAndGlyphs"><tspan font-family='"Liberation Sans", Arial, sans-serif' font-weight="bold" font-style="italic">p</tspan>&lt;0.001</text>
<text x="423.83" y="1677.7" font-size="28.72" font-family='"Liberation Sans", Arial, sans-serif' font-weight="bold" fill="#000" textLength="106.17" lengthAdjust="spacingAndGlyphs"><tspan font-family='"Liberation Sans", Arial, sans-serif' font-weight="bold" font-style="italic">p</tspan>&lt;0.001</text>
<!-- panel h -->
<text x="877.72" y="1605.1" font-size="42.88" font-family='"Liberation Sans", Arial, sans-serif' font-weight="bold" fill="#000" textLength="511.75" lengthAdjust="spacingAndGlyphs">Linoleic acid metabolism</text>
<g fill="#000">
<rect x="870.9" y="1641.2" width="7" height="493.75"/>
<rect x="870.9" y="2127.85" width="521.7" height="7.1"/>
<rect x="858.9" y="1641.15" width="15.5" height="6.9"/>
<rect x="858.9" y="1738.51" width="15.5" height="6.9"/>
<rect x="858.9" y="1835.87" width="15.5" height="6.9"/>
<rect x="858.9" y="1933.23" width="15.5" height="6.9"/>
<rect x="858.9" y="2030.59" width="15.5" height="6.9"/>
<rect x="858.9" y="2127.95" width="15.5" height="6.9"/>
<rect x="949.65" y="2131.4" width="6.9" height="14.6"/>
<rect x="1069.65" y="2131.4" width="6.9" height="14.6"/>
<rect x="1189.25" y="2131.4" width="6.9" height="14.6"/>
<rect x="1309.25" y="2131.4" width="6.9" height="14.6"/>
<rect x="914.1" y="2048.05" width="79.8" height="4.5"/>
<rect x="914.1" y="2087.75" width="79.8" height="4.5"/>
<rect x="914.1" y="2050.3" width="3.8" height="39.7"/>
<rect x="990.1" y="2050.3" width="3.8" height="39.7"/>
<rect x="916" y="2073.75" width="76" height="4.5"/>
<rect x="952.1" y="2018.3" width="3.8" height="32"/>
<rect x="932.34" y="2016.05" width="43.32" height="4.5" rx="2.25"/>
<rect x="952.1" y="2090" width="3.8" height="17.4"/>
<rect x="932.34" y="2105.15" width="43.32" height="4.5" rx="2.25"/>
<rect x="1032.3" y="1799.35" width="81.7" height="4.5"/>
<rect x="1032.3" y="1892.05" width="81.7" height="4.5"/>
<rect x="1032.3" y="1801.6" width="3.8" height="92.7"/>
<rect x="1110.2" y="1801.6" width="3.8" height="92.7"/>
<rect x="1034.2" y="1819.95" width="77.9" height="4.5"/>
<rect x="1071.25" y="1794.5" width="3.8" height="7.1"/>
<rect x="1050.95" y="1792.25" width="44.4" height="4.5" rx="2.25"/>
<rect x="1071.25" y="1894.3" width="3.8" height="22.2"/>
<rect x="1050.95" y="1914.25" width="44.4" height="4.5" rx="2.25"/>
<rect x="1153" y="1880.35" width="80.6" height="4.5"/>
<rect x="1153" y="2042.75" width="80.6" height="4.5"/>
<rect x="1153" y="1882.6" width="3.8" height="162.4"/>
<rect x="1229.8" y="1882.6" width="3.8" height="162.4"/>
<rect x="1154.9" y="1933.75" width="76.8" height="4.5"/>
<rect x="1191.4" y="1867.8" width="3.8" height="14.8"/>
<rect x="1171.41" y="1865.55" width="43.78" height="4.5" rx="2.25"/>
<rect x="1191.4" y="2045" width="3.8" height="41.8"/>
<rect x="1171.41" y="2084.55" width="43.78" height="4.5" rx="2.25"/>
<rect x="1273" y="1923.95" width="80.6" height="4.5"/>
<rect x="1273" y="2049.45" width="80.6" height="4.5"/>
<rect x="1273" y="1926.2" width="3.8" height="125.5"/>
<rect x="1349.8" y="1926.2" width="3.8" height="125.5"/>
<rect x="1274.9" y="1979.75" width="76.8" height="4.5"/>
<rect x="1311.4" y="1835.8" width="3.8" height="90.4"/>
<rect x="1291.41" y="1833.55" width="43.78" height="4.5" rx="2.25"/>
<rect x="1311.4" y="2051.7" width="3.8" height="13.6"/>
<rect x="1291.41" y="2063.05" width="43.78" height="4.5" rx="2.25"/>
<rect x="951.7" y="1751.7" width="3.6" height="236.9"/>
<rect x="951.7" y="1749.45" width="123.2" height="4.5"/>
<rect x="1071.3" y="1751.7" width="3.6" height="31.2"/>
<rect x="1071.3" y="1682.7" width="3.6" height="69"/>
<rect x="1071.3" y="1733.05" width="123.6" height="4.5"/>
<rect x="1191.3" y="1735.3" width="3.6" height="47.6"/>
<rect x="1071.3" y="1680.45" width="243.2" height="4.5"/>
<rect x="1310.9" y="1682.7" width="3.6" height="88.5"/>
<circle cx="953.8" cy="2018.2" r="10.6"/>
<circle cx="925.7" cy="2071" r="10.6"/>
<circle cx="983.2" cy="2058.8" r="10.6"/>
<circle cx="983.5" cy="2080.3" r="10.6"/>
<circle cx="954" cy="2086.5" r="10.6"/>
<circle cx="954" cy="2107.4" r="10.6"/>
<circle cx="1043.9" cy="1793.8" r="10.6"/>
<circle cx="1103.1" cy="1803.5" r="10.6"/>
<circle cx="1073.1" cy="1811.3" r="10.6"/>
<circle cx="1073.1" cy="1833.9" r="10.6"/>
<circle cx="1073.1" cy="1888.4" r="10.6"/>
<circle cx="1073.1" cy="1916.5" r="10.6"/>
<circle cx="1222.3" cy="1867.8" r="10.6"/>
<circle cx="1164.7" cy="1887.3" r="10.6"/>
<circle cx="1222.3" cy="1893.1" r="10.6"/>
<circle cx="1193.1" cy="1976.1" r="10.6"/>
<circle cx="1193.1" cy="2034.5" r="10.6"/>
<circle cx="1193.1" cy="2086.8" r="10.6"/>
<circle cx="1312.7" cy="1835.8" r="10.6"/>
<circle cx="1284.7" cy="1955.5" r="10.6"/>
<circle cx="1343.1" cy="1965.2" r="10.6"/>
<circle cx="1312.7" cy="2000.3" r="10.6"/>
<circle cx="1343.1" cy="2049" r="10.6"/>
<circle cx="1284.7" cy="2065.3" r="10.6"/>
</g>
<text x="799.93" y="1651.6" font-size="20.05" font-family='"Liberation Sans", Arial, sans-serif' font-weight="bold" fill="#000" textLength="54.77" lengthAdjust="spacingAndGlyphs">0.065</text>
<text x="799.93" y="1748.96" font-size="20.05" font-family='"Liberation Sans", Arial, sans-serif' font-weight="bold" fill="#000" textLength="55.07" lengthAdjust="spacingAndGlyphs">0.060</text>
<text x="799.93" y="1846.32" font-size="20.05" font-family='"Liberation Sans", Arial, sans-serif' font-weight="bold" fill="#000" textLength="54.77" lengthAdjust="spacingAndGlyphs">0.055</text>
<text x="799.93" y="1943.68" font-size="20.05" font-family='"Liberation Sans", Arial, sans-serif' font-weight="bold" fill="#000" textLength="55.07" lengthAdjust="spacingAndGlyphs">0.050</text>
<text x="799.93" y="2041.04" font-size="20.05" font-family='"Liberation Sans", Arial, sans-serif' font-weight="bold" fill="#000" textLength="54.77" lengthAdjust="spacingAndGlyphs">0.045</text>
<text x="799.93" y="2138.4" font-size="20.05" font-family='"Liberation Sans", Arial, sans-serif' font-weight="bold" fill="#000" textLength="55.07" lengthAdjust="spacingAndGlyphs">0.040</text>
<text x="0" y="0" font-size="28.7" font-family='"Liberation Sans", Arial, sans-serif' font-weight="bold" transform="translate(947.5,2166.7) rotate(45)">NC</text>
<text x="0" y="0" font-size="28.7" font-family='"Liberation Sans", Arial, sans-serif' font-weight="bold" transform="translate(1067.5,2166.7) rotate(45)">Amp</text>
<text x="0" y="0" font-size="28.7" font-family='"Liberation Sans", Arial, sans-serif' font-weight="bold" transform="translate(1187.1,2166.7) rotate(45)">Amp-LABL</text>
<text x="0" y="0" font-size="28.7" font-family='"Liberation Sans", Arial, sans-serif' font-weight="bold" transform="translate(1307.1,2166.7) rotate(45)">Amp-LABH</text>
<text x="-2.72" y="0" font-size="41.5" font-family='"Liberation Sans", Arial, sans-serif' font-weight="bold" textLength="282.04" lengthAdjust="spacingAndGlyphs" transform="translate(785.4,2023.5) rotate(-90)">Porportion (%)</text>
<text x="961.9" y="1740" font-size="27.44" font-family='"Liberation Sans", Arial, sans-serif' font-weight="bold" fill="#000" textLength="101.46" lengthAdjust="spacingAndGlyphs"><tspan font-family='"Liberation Sans", Arial, sans-serif' font-weight="bold" font-style="italic">p</tspan>&lt;0.001</text>
<text x="1082.61" y="1720.5" font-size="27.69" font-family='"Liberation Sans", Arial, sans-serif' font-weight="bold" fill="#000" textLength="102.36" lengthAdjust="spacingAndGlyphs"><tspan font-family='"Liberation Sans", Arial, sans-serif' font-weight="bold" font-style="italic">p</tspan>=0.025</text>
<text x="1138.81" y="1671" font-size="27.98" font-family='"Liberation Sans", Arial, sans-serif' font-weight="bold" fill="#000" textLength="103.45" lengthAdjust="spacingAndGlyphs"><tspan font-family='"Liberation Sans", Arial, sans-serif' font-weight="bold" font-style="italic">p</tspan>=0.008</text>
<!-- panel i -->
<text x="1497.31" y="1602.7" font-size="42.88" font-family='"Liberation Sans", Arial, sans-serif' font-weight="bold" fill="#000" textLength="627.47" lengthAdjust="spacingAndGlyphs"><tspan font-family='"Liberation Sans", Arial, sans-serif' font-weight="bold" font-style="italic">Staphylococcus aureus</tspan> infection</text>
<g fill="#000">
<rect x="1564.9" y="1638.9" width="7" height="497.35"/>
<rect x="1564.9" y="2129.15" width="484.1" height="7.1"/>
<rect x="1552.9" y="1638.55" width="15.5" height="6.9"/>
<rect x="1552.9" y="1802.12" width="15.5" height="6.9"/>
<rect x="1552.9" y="1965.68" width="15.5" height="6.9"/>
<rect x="1552.9" y="2129.25" width="15.5" height="6.9"/>
<rect x="1638.45" y="2132.7" width="6.9" height="13.3"/>
<rect x="1750.25" y="2132.7" width="6.9" height="13.3"/>
<rect x="1861.25" y="2132.7" width="6.9" height="13.3"/>
<rect x="1972.35" y="2132.7" width="6.9" height="13.3"/>
<rect x="1604.9" y="1998.25" width="75.9" height="4.5"/>
<rect x="1604.9" y="2051.75" width="75.9" height="4.5"/>
<rect x="1604.9" y="2000.5" width="3.8" height="53.5"/>
<rect x="1677" y="2000.5" width="3.8" height="53.5"/>
<rect x="1606.8" y="2024.15" width="72.1" height="4.5"/>
<rect x="1640.95" y="1970" width="3.8" height="30.5"/>
<rect x="1622.3" y="1967.75" width="41.1" height="4.5" rx="2.25"/>
<rect x="1640.95" y="2054" width="3.8" height="13.7"/>
<rect x="1622.3" y="2065.45" width="41.1" height="4.5" rx="2.25"/>
<rect x="1715.9" y="1821.95" width="75.9" height="4.5"/>
<rect x="1715.9" y="1938.75" width="75.9" height="4.5"/>
<rect x="1715.9" y="1824.2" width="3.8" height="116.8"/>
<rect x="1788" y="1824.2" width="3.8" height="116.8"/>
<rect x="1717.8" y="1865.55" width="72.1" height="4.5"/>
<rect x="1751.95" y="1798.4" width="3.8" height="25.8"/>
<rect x="1733.3" y="1796.15" width="41.1" height="4.5" rx="2.25"/>
<rect x="1751.95" y="1941" width="3.8" height="25"/>
<rect x="1733.3" y="1963.75" width="41.1" height="4.5" rx="2.25"/>
<rect x="1827" y="2025.25" width="75.9" height="4.5"/>
<rect x="1827" y="2077.85" width="75.9" height="4.5"/>
<rect x="1827" y="2027.5" width="3.8" height="52.6"/>
<rect x="1899.1" y="2027.5" width="3.8" height="52.6"/>
<rect x="1828.9" y="2068.15" width="72.1" height="4.5"/>
<rect x="1863.05" y="2017.8" width="3.8" height="9.7"/>
<rect x="1844.4" y="2015.55" width="41.1" height="4.5" rx="2.25"/>
<rect x="1938.8" y="2012.75" width="75.1" height="4.5"/>
<rect x="1938.8" y="2049.45" width="75.1" height="4.5"/>
<rect x="1938.8" y="2015" width="3.8" height="36.7"/>
<rect x="2010.1" y="2015" width="3.8" height="36.7"/>
<rect x="1940.7" y="2032.25" width="71.3" height="4.5"/>
<rect x="1974.45" y="1986.6" width="3.8" height="28.4"/>
<rect x="1956.03" y="1984.35" width="40.64" height="4.5" rx="2.25"/>
<rect x="1974.45" y="2051.7" width="3.8" height="12.1"/>
<rect x="1956.03" y="2061.55" width="40.64" height="4.5" rx="2.25"/>
<rect x="1640.1" y="1749" width="3.6" height="173.3"/>
<rect x="1640.1" y="1746.75" width="115.4" height="4.5"/>
<rect x="1751.9" y="1749" width="3.6" height="30"/>
<rect x="1751.9" y="1678.8" width="3.6" height="70.2"/>
<rect x="1751.9" y="1729.15" width="114.6" height="4.5"/>
<rect x="1862.9" y="1731.4" width="3.6" height="47.6"/>
<rect x="1751.9" y="1676.55" width="225.7" height="4.5"/>
<rect x="1974" y="1678.8" width="3.6" height="88.5"/>
<circle cx="1642.6" cy="1969.9" r="10.1"/>
<circle cx="1615.8" cy="2013.9" r="10.1"/>
<circle cx="1669.9" cy="2008.1" r="10.1"/>
<circle cx="1615.8" cy="2040" r="10.1"/>
<circle cx="1669.9" cy="2051.7" r="10.1"/>
<circle cx="1615.8" cy="2067.3" r="10.1"/>
<circle cx="1752.9" cy="1798.4" r="10.1"/>
<circle cx="1726.4" cy="1830.8" r="10.1"/>
<circle cx="1780.9" cy="1832" r="10.1"/>
<circle cx="1752.9" cy="1904" r="10.1"/>
<circle cx="1752.9" cy="1936" r="10.1"/>
<circle cx="1752.9" cy="1965.2" r="10.1"/>
<circle cx="1873.7" cy="2017.8" r="10.1"/>
<circle cx="1854.2" cy="2029.5" r="10.1"/>
<circle cx="1856.1" cy="2070.4" r="10.1"/>
<circle cx="1874.9" cy="2073.5" r="10.1"/>
<circle cx="1892" cy="2073.5" r="10.1"/>
<circle cx="1836.7" cy="2082.1" r="10.1"/>
<circle cx="1975.8" cy="1985.5" r="10.1"/>
<circle cx="1949.6" cy="2033.4" r="10.1"/>
<circle cx="1975.8" cy="2033.4" r="10.1"/>
<circle cx="2002.3" cy="2022.9" r="10.1"/>
<circle cx="2002.3" cy="2050.1" r="10.1"/>
<circle cx="1949.6" cy="2062.6" r="10.1"/>
</g>
<text x="1511.2" y="1649.2" font-size="20.62" font-family='"Liberation Sans", Arial, sans-serif' font-weight="bold" fill="#000" textLength="39.57" lengthAdjust="spacingAndGlyphs">0.15</text>
<text x="1511.19" y="1812.77" font-size="20.62" font-family='"Liberation Sans", Arial, sans-serif' font-weight="bold" fill="#000" textLength="39.85" lengthAdjust="spacingAndGlyphs">0.10</text>
<text x="1511.2" y="1976.33" font-size="20.62" font-family='"Liberation Sans", Arial, sans-serif' font-weight="bold" fill="#000" textLength="39.57" lengthAdjust="spacingAndGlyphs">0.05</text>
<text x="1511.19" y="2139.9" font-size="20.62" font-family='"Liberation Sans", Arial, sans-serif' font-weight="bold" fill="#000" textLength="39.85" lengthAdjust="spacingAndGlyphs">0.00</text>
<text x="0" y="0" font-size="28.7" font-family='"Liberation Sans", Arial, sans-serif' font-weight="bold" transform="translate(1636.3,2168) scale(0.94,1) rotate(45)">NC</text>
<text x="0" y="0" font-size="28.7" font-family='"Liberation Sans", Arial, sans-serif' font-weight="bold" transform="translate(1748.1,2168) scale(0.94,1) rotate(45)">Amp</text>
<text x="0" y="0" font-size="28.7" font-family='"Liberation Sans", Arial, sans-serif' font-weight="bold" transform="translate(1859.1,2168) scale(0.94,1) rotate(45)">Amp-LABL</text>
<text x="0" y="0" font-size="28.7" font-family='"Liberation Sans", Arial, sans-serif' font-weight="bold" transform="translate(1970.2,2168) scale(0.94,1) rotate(45)">Amp-LABH</text>
<text x="-2.73" y="0" font-size="41" font-family='"Liberation Sans", Arial, sans-serif' font-weight="bold" textLength="283.67" lengthAdjust="spacingAndGlyphs" transform="translate(1496.9,2025.1) rotate(-90)">Porportion (%)</text>
<text x="1649.07" y="1735.3" font-size="26.04" font-family='"Liberation Sans", Arial, sans-serif' font-weight="bold" fill="#000" textLength="96.27" lengthAdjust="spacingAndGlyphs"><tspan font-family='"Liberation Sans", Arial, sans-serif' font-weight="bold" font-style="italic">p</tspan>=0.002</text>
<text x="1761.26" y="1717.8" font-size="25.33" font-family='"Liberation Sans", Arial, sans-serif' font-weight="bold" fill="#000" textLength="93.65" lengthAdjust="spacingAndGlyphs"><tspan font-family='"Liberation Sans", Arial, sans-serif' font-weight="bold" font-style="italic">p</tspan>&lt;0.001</text>
<text x="1815.77" y="1667.1" font-size="25.96" font-family='"Liberation Sans", Arial, sans-serif' font-weight="bold" fill="#000" textLength="95.97" lengthAdjust="spacingAndGlyphs"><tspan font-family='"Liberation Sans", Arial, sans-serif' font-weight="bold" font-style="italic">p</tspan>=0.002</text>
<text x="346.24" y="799.8" font-size="42.57" font-family='"Liberation Serif", "Times New Roman", serif' fill="#000" textLength="46.61" lengthAdjust="spacingAndGlyphs">(<tspan font-family='"Liberation Serif", "Times New Roman", serif' font-weight="bold">a</tspan>)</text>
<text x="1058.94" y="799.8" font-size="42.57" font-family='"Liberation Serif", "Times New Roman", serif' fill="#000" textLength="51.83" lengthAdjust="spacingAndGlyphs">(<tspan font-family='"Liberation Serif", "Times New Roman", serif' font-weight="bold">b</tspan>)</text>
<text x="1769.03" y="799.8" font-size="42.57" font-family='"Liberation Serif", "Times New Roman", serif' fill="#000" textLength="44.63" lengthAdjust="spacingAndGlyphs">(<tspan font-family='"Liberation Serif", "Times New Roman", serif' font-weight="bold">c</tspan>)</text>
<text x="343.97" y="1540.7" font-size="42.57" font-family='"Liberation Serif", "Times New Roman", serif' fill="#000" textLength="50.86" lengthAdjust="spacingAndGlyphs">(<tspan font-family='"Liberation Serif", "Times New Roman", serif' font-weight="bold">d</tspan>)</text>
<text x="1061.15" y="1540.7" font-size="42.57" font-family='"Liberation Serif", "Times New Roman", serif' fill="#000" textLength="46.81" lengthAdjust="spacingAndGlyphs">(<tspan font-family='"Liberation Serif", "Times New Roman", serif' font-weight="bold">e</tspan>)</text>
<text x="1770.16" y="1540.7" font-size="42.57" font-family='"Liberation Serif", "Times New Roman", serif' fill="#000" textLength="41.88" lengthAdjust="spacingAndGlyphs">(<tspan font-family='"Liberation Serif", "Times New Roman", serif' font-weight="bold">f</tspan>)</text>
<text x="345.07" y="2325" font-size="42.57" font-family='"Liberation Serif", "Times New Roman", serif' fill="#000" textLength="48.67" lengthAdjust="spacingAndGlyphs">(<tspan font-family='"Liberation Serif", "Times New Roman", serif' font-weight="bold">g</tspan>)</text>
<text x="1059.16" y="2324.8" font-size="42.57" font-family='"Liberation Serif", "Times New Roman", serif' fill="#000" textLength="51.29" lengthAdjust="spacingAndGlyphs">(<tspan font-family='"Liberation Serif", "Times New Roman", serif' font-weight="bold">h</tspan>)</text>
<text x="1771.16" y="2324.8" font-size="42.57" font-family='"Liberation Serif", "Times New Roman", serif' fill="#000" textLength="39.59" lengthAdjust="spacingAndGlyphs">(<tspan font-family='"Liberation Serif", "Times New Roman", serif' font-weight="bold">i</tspan>)</text>
</svg>
</body></html>
